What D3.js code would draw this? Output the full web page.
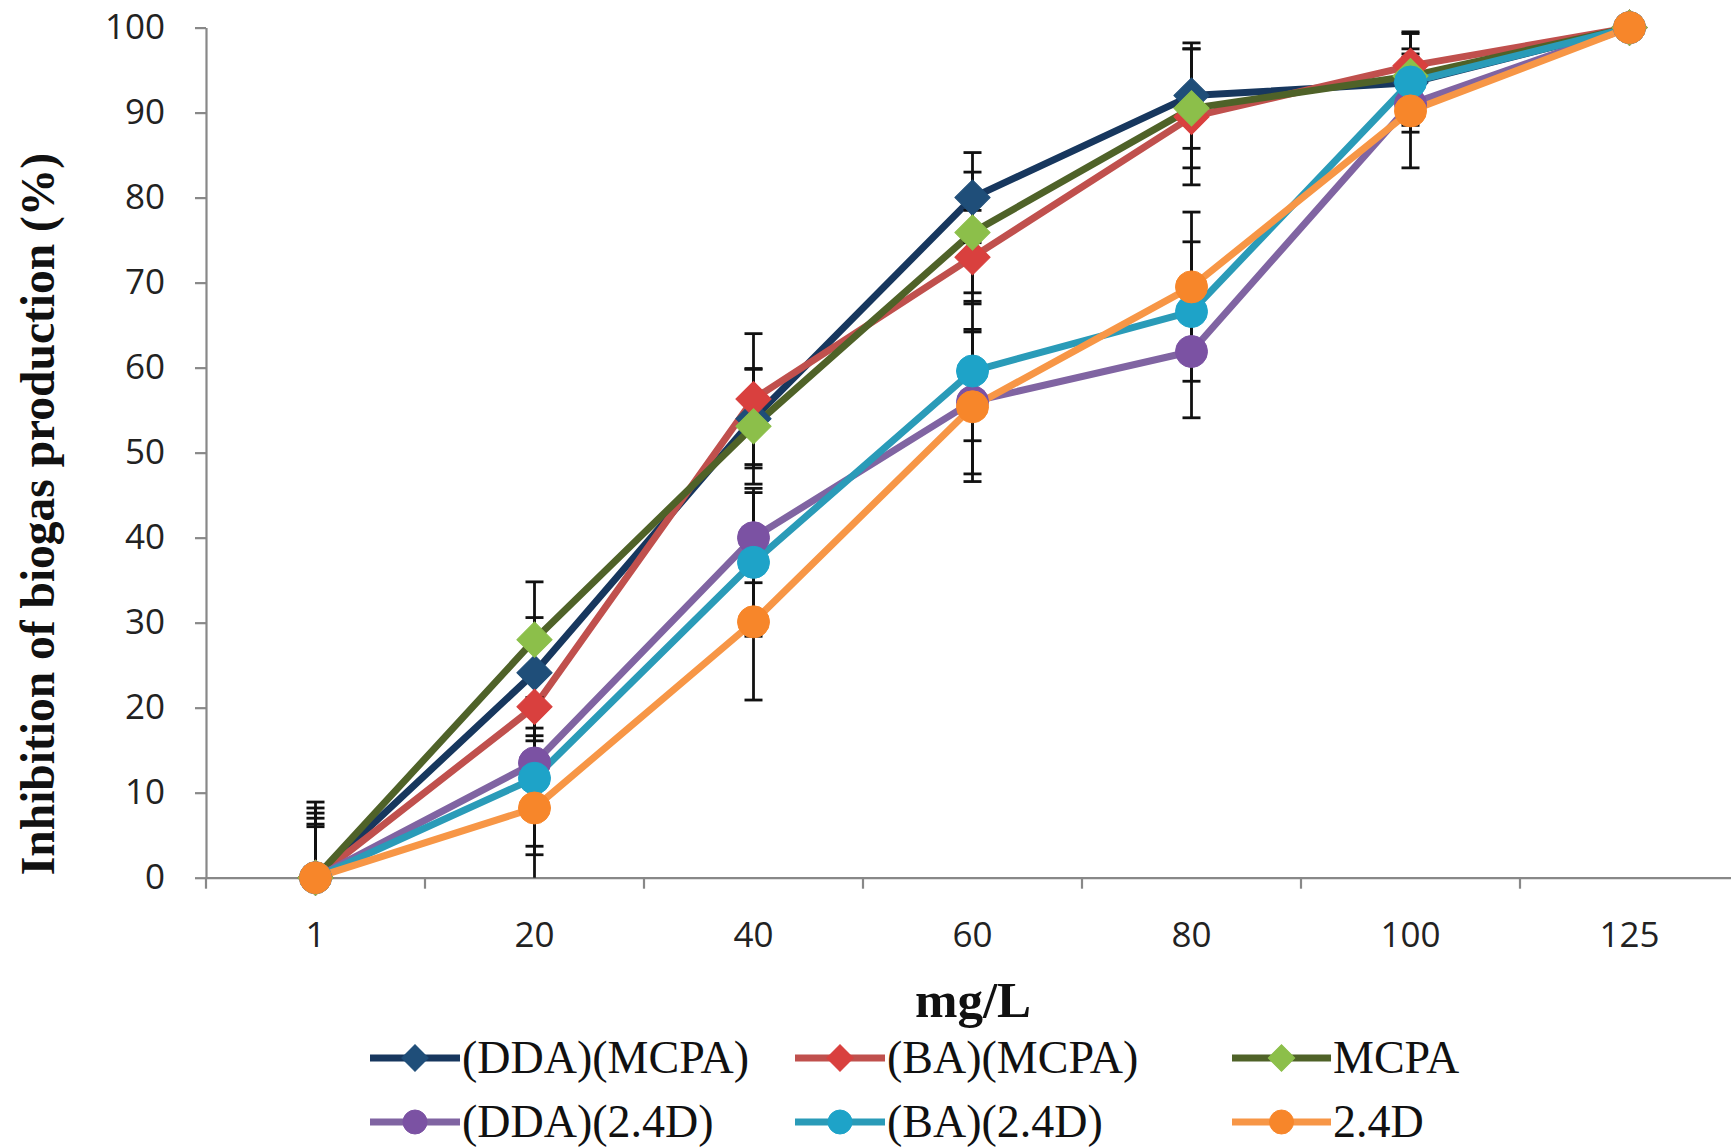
<!DOCTYPE html>
<html>
<head>
<meta charset="utf-8">
<script src="https://cdn.jsdelivr.net/npm/d3@7"></script>
<style>
  html, body { margin: 0; padding: 0; background: #ffffff; }
  svg { display: block; }
</style>
</head>
<body>
<svg id="chart" width="1731" height="1147"></svg>
<script>
// ---------- data ----------
const categories = ["1", "20", "40", "60", "80", "100", "125"];
const yTicks = [0, 10, 20, 30, 40, 50, 60, 70, 80, 90, 100];
const seriesNames = ["(DDA)(MCPA)", "(BA)(MCPA)", "MCPA", "(DDA)(2.4D)", "(BA)(2.4D)", "2.4D"];

const ddaMcpa     = [0, 24.1, 54.0, 80.0, 92.0, 93.5, 100];
const baMcpa      = [0, 20.1, 56.3, 73.0, 89.5, 95.5, 100];
const mcpa        = [0, 28.0, 53.1, 75.9, 90.5, 94.3, 100];
const ddaD24      = [0, 13.5, 40.0, 56.0, 61.9, 91.0, 100];
const baD24       = [0, 11.7, 37.1, 59.6, 66.6, 93.6, 100];
const d24         = [0, 8.2, 30.1, 55.4, 69.5, 90.2, 100];

const ddaMcpaErr  = [8.9, 6.5, 5.8, 5.3, 6.2, 3.0, 0];
const baMcpaErr   = [7.6, 4.0, 7.7, 5.5, 8.0, 3.8, 0];
const mcpaErr     = [8.2, 6.8, 6.8, 7.1, 7.0, 3.2, 0];
const ddaD24Err   = [7.0, 9.8, 5.3, 8.5, 7.8, 2.5, 0];
const baD24Err    = [6.0, 9.0, 8.7, 8.2, 8.2, 5.9, 0];
const d24Err      = [6.3, 8.5, 9.2, 8.8, 8.8, 6.7, 0];

const seriesValues = [ddaMcpa, baMcpa, mcpa, ddaD24, baD24, d24];
const seriesErrors = [ddaMcpaErr, baMcpaErr, mcpaErr, ddaD24Err, baD24Err, d24Err];
const markerShapes = ["diamond", "diamond", "diamond", "circle", "circle", "circle"];
const lineColors   = ["#17375e", "#c0504d", "#4f6228", "#8064a2", "#2a9bb8", "#f79646"];
const markerColors = ["#1f4e79", "#d9403e", "#8cbf4a", "#7b52a3", "#1ea3c8", "#f7862a"];

// ---------- layout ----------
const svg = d3.select("#chart");
const x = d3.scaleBand().domain(categories).range([206, 1739]);
const y = d3.scaleLinear().domain([0, 100]).range([877.7, 27.6]);
const axisColor = "#888888";
const tickFont = "'Open Sans', 'Liberation Sans', sans-serif";
const serif = "'Liberation Serif', 'Times New Roman', serif";

// y axis
const yAxis = svg.append("g")
  .attr("transform", `translate(${x.range()[0]},0)`)
  .call(d3.axisLeft(y).tickValues(yTicks).tickSize(11).tickPadding(30).tickSizeOuter(0));
yAxis.select(".domain").attr("stroke", axisColor).attr("stroke-width", 2.2);
yAxis.selectAll(".tick line").attr("stroke", axisColor).attr("stroke-width", 2.2);
yAxis.selectAll(".tick text")
  .attr("fill", "#222").style("font-family", tickFont).style("font-size", "35px");

// x axis (labels centered in bands, tick marks at band boundaries)
const x0 = y(0);
const xAxis = svg.append("g")
  .attr("transform", `translate(0,${x0})`)
  .call(d3.axisBottom(x).tickSize(0).tickPadding(44).tickSizeOuter(0));
xAxis.select(".domain").attr("stroke", axisColor).attr("stroke-width", 2.2);
xAxis.selectAll(".tick text")
  .attr("fill", "#222").style("font-family", tickFont).style("font-size", "35px");
const boundaries = categories.map(c => x(c)).concat([x.range()[1]]);
svg.append("g").selectAll("line").data(boundaries).join("line")
  .attr("x1", d => d).attr("x2", d => d)
  .attr("y1", x0).attr("y2", x0 + 11)
  .attr("stroke", axisColor).attr("stroke-width", 2.2);

// axis titles
svg.append("text")
  .attr("transform", "translate(54,514) rotate(-90)")
  .attr("text-anchor", "middle")
  .style("font-family", serif).style("font-weight", "bold").style("font-size", "47.5px")
  .attr("fill", "#111")
  .text("Inhibition of biogas production (%)");

svg.append("text")
  .attr("x", 973).attr("y", 1017)
  .attr("text-anchor", "middle")
  .style("font-family", serif).style("font-weight", "bold").style("font-size", "51px")
  .attr("fill", "#111")
  .text("mg/L");

// ---------- marks ----------
const cx = c => x(c) + x.bandwidth() / 2;
const clip = v => Math.max(0, Math.min(100, v));
const line = d3.line().x((d, i) => cx(categories[i])).y(d => y(d));

const plot = svg.append("g");

// lines
seriesValues.forEach((vals, s) => {
  plot.append("path")
    .datum(vals)
    .attr("d", line)
    .attr("fill", "none")
    .attr("stroke", lineColors[s])
    .attr("stroke-width", 7)
    .attr("stroke-linejoin", "round");
});

// error bars
const capHalf = 9;
seriesValues.forEach((vals, s) => {
  const g = plot.append("g");
  vals.forEach((v, i) => {
    const e = seriesErrors[s][i];
    if (e <= 0) return;
    const px = cx(categories[i]);
    const hi = v + e, lo = v - e;
    g.append("line")
      .attr("x1", px).attr("x2", px)
      .attr("y1", y(clip(hi))).attr("y2", y(clip(lo)))
      .attr("stroke", "#111").attr("stroke-width", 2.8);
    [hi, lo].forEach(b => {
      if (b < 0 || b > 100) return;
      g.append("line")
        .attr("x1", px - capHalf).attr("x2", px + capHalf)
        .attr("y1", y(b)).attr("y2", y(b))
        .attr("stroke", "#111").attr("stroke-width", 2.8);
    });
  });
});

// markers
function drawMarker(g, shape, px, py, color, scale) {
  if (shape === "diamond") {
    g.append("path")
      .attr("d", d3.symbol().type(d3.symbolSquare).size(620 * scale * scale)())
      .attr("transform", `translate(${px},${py}) rotate(45)`)
      .attr("fill", color).attr("stroke", color).attr("stroke-width", 1);
  } else {
    g.append("circle")
      .attr("cx", px).attr("cy", py).attr("r", 16 * scale)
      .attr("fill", color).attr("stroke", color).attr("stroke-width", 1);
  }
}
seriesValues.forEach((vals, s) => {
  const g = plot.append("g");
  vals.forEach((v, i) => {
    drawMarker(g, markerShapes[s], cx(categories[i]), y(v), markerColors[s], 1);
  });
});

// ---------- legend ----------
const legendCols = [{ lx: 370, tx: 462 }, { lx: 795, tx: 887 }, { lx: 1232, tx: 1333 }];
const legendRows = [1058, 1122];
seriesNames.forEach((name, s) => {
  const col = legendCols[s % 3];
  const ly = legendRows[Math.floor(s / 3)];
  const g = svg.append("g");
  g.append("line")
    .attr("x1", col.lx).attr("x2", col.tx - 2)
    .attr("y1", ly).attr("y2", ly)
    .attr("stroke", lineColors[s]).attr("stroke-width", 7);
  drawMarker(g, markerShapes[s], (col.lx + col.tx - 2) / 2, ly, markerColors[s], 0.75);
  g.append("text")
    .attr("x", col.tx).attr("y", ly + 15)
    .style("font-family", serif).style("font-size", "46px")
    .attr("fill", "#111")
    .text(name);
});
</script>
</body>
</html>
